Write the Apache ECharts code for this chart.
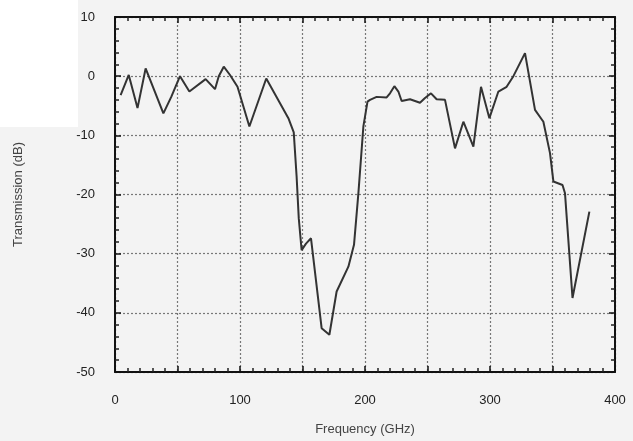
<!DOCTYPE html>
<html>
<head>
<meta charset="utf-8">
<script src="https://cdn.jsdelivr.net/npm/echarts@6/dist/echarts.min.js"></script>
<style>
html, body { margin: 0; padding: 0; background: #f3f3f3; }
#chart { width: 633px; height: 441px; }
</style>
</head>
<body>
<div id="chart"></div>
<script>
// frequency (GHz)
var freq = [4.5, 11, 18, 24.5, 38.7, 45, 52, 59.5, 72.5, 80, 83, 87, 92, 98, 107.5, 121, 138.7, 143,
    145.3, 147, 149.3, 152.8, 156.8, 165.3, 171.5, 177.3, 186.7, 191.2, 194.7, 198.7, 202, 204,
    209.3, 217.3, 220, 223.5, 226.7, 229.3, 236, 244, 248, 252.8, 257.3, 264, 272, 278.7, 286.7,
    292.8, 299.5, 306.7, 313.3, 318.7, 328, 336, 342.7, 348, 350.7, 358, 360, 366, 379.5];
// transmission (dB)
var trans = [-3.2, 0.2, -5.4, 1.3, -6.3, -3.5, 0, -2.6, -0.5, -2.2, 0, 1.6, 0.2, -1.8, -8.5, -0.4, -7.1, -9.5,
    -17, -24, -29.4, -28.3, -27.4, -42.6, -43.7, -36.4, -32.2, -28.5, -19.8, -8.5, -4.3, -4,
    -3.5, -3.6, -2.9, -1.7, -2.6, -4.2, -3.9, -4.5, -3.7, -2.9, -3.9, -4, -12.2, -7.7, -11.9,
    -1.8, -7.1, -2.6, -1.8, 0, 3.9, -5.7, -7.7, -13, -17.8, -18.4, -19.8, -37.5, -22.9];

var points = freq.map(function (f, i) { return [f, trans[i]]; });

var chart = echarts.init(document.getElementById('chart'));
var font = '"Liberation Sans", Arial, sans-serif';
var boxLine = { show: true, onZero: false, lineStyle: { color: '#111', width: 2 } };
var inTick = { show: true, inside: true, length: 6, lineStyle: { color: '#111', width: 1.5 } };
var minorIn = { show: true, splitNumber: 5, length: 4, lineStyle: { color: '#222', width: 1.5 } };
var dotted = { show: true, lineStyle: { color: '#777', type: [2, 2], width: 1.2 } };

chart.setOption({
    backgroundColor: '#f3f3f3',
    animation: false,
    graphic: [{
        type: 'rect', left: 0, top: 0, z: -10,
        shape: { width: 78, height: 127 },
        style: { fill: '#ffffff' }
    }],
    grid: { left: 115, right: 18, top: 17, bottom: 69 },
    xAxis: [{
        type: 'value', min: 0, max: 400, interval: 50,
        name: 'Frequency (GHz)', nameLocation: 'middle', nameGap: 51,
        nameTextStyle: { fontFamily: font, fontSize: 13, color: '#444' },
        axisLine: boxLine, axisTick: inTick, minorTick: minorIn,
        splitLine: dotted,
        axisLabel: {
            margin: 22, fontFamily: font, fontSize: 13, color: '#222',
            formatter: function (v) { return v % 100 === 0 ? String(v) : ''; }
        }
    }, {
        type: 'value', min: 0, max: 400, interval: 50, position: 'top',
        axisLine: boxLine, axisTick: inTick, minorTick: minorIn,
        splitLine: { show: false }, axisLabel: { show: false }
    }],
    yAxis: [{
        type: 'value', min: -50, max: 10, interval: 10,
        name: 'Transmission (dB)', nameLocation: 'middle', nameGap: 90,
        nameTextStyle: { fontFamily: font, fontSize: 13, color: '#444' },
        axisLine: boxLine, axisTick: inTick, minorTick: minorIn,
        splitLine: dotted,
        axisLabel: { margin: 20, fontFamily: font, fontSize: 13, color: '#222' }
    }, {
        type: 'value', min: -50, max: 10, interval: 10, position: 'right',
        axisLine: boxLine, axisTick: inTick, minorTick: minorIn,
        splitLine: { show: false }, axisLabel: { show: false }
    }],
    series: [{
        type: 'line',
        data: points,
        symbol: 'none',
        lineStyle: { color: '#333', width: 2 }
    }]
});
</script>
</body>
</html>
